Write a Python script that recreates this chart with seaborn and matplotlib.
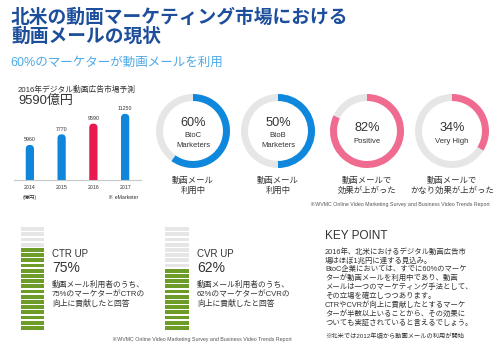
import matplotlib
matplotlib.use("Agg")
import matplotlib.pyplot as plt
import numpy as np
import seaborn as sns
from matplotlib.patches import FancyBboxPatch

sns.set_style("white")
plt.rcParams["font.family"] = ["Liberation Sans", "Noto Sans CJK JP", "DejaVu Sans"]

W, H = 500, 351

# data
years = ["2014", "2015", "2016", "2017"]
ad_market = [5960, 7770, 9590, 11250]
bar_colors = ["#0e86d9", "#0e86d9", "#e8194f", "#0e86d9"]

donut_pcts = [60, 50, 82, 34]
donut_inner = [["60%", "BtoC", "Marketers"], ["50%", "BtoB", "Marketers"],
               ["82%", "Positive"], ["34%", "Very High"]]
donut_labels = [["動画メール", "利用中"], ["動画メール", "利用中"],
                ["動画メールで", "効果が上がった"], ["動画メールで", "かなり効果が上がった"]]
donut_colors = ["#0e87dc", "#0e87dc", "#f06b90", "#f06b90"]

n_seg = 20
ctr_green = 16
cvr_green = 12

keypoint_lines = [
    "2016年、北米におけるデジタル動画広告市",
    "場はほぼ1兆円に達する見込み。",
    "BtoC企業においては、すでに60%のマーケ",
    "ターが動画メールを利用中であり、動画",
    "メールは一つのマーケティング手法として、",
    "その立場を確立しつつあります。",
    "CTRやCVRが向上に貢献したとするマーケ",
    "ターが半数以上いることから、その効果に",
    "ついても実証されていると言えるでしょう。",
]

TXT = "#333333"
GREY = "#e6e6e6"
GREEN = "#6e9c28"
SRC = "※WVMC Online Video Marketing Survey and Business Video Trends Report"

fig = plt.figure(figsize=(W / 100, H / 100), dpi=100)


def t(x, y, s, **kw):
    kw.setdefault("color", TXT)
    kw.setdefault("va", "center")
    fig.text(x / W, 1 - y / H, s, **kw)


def box(x0, y0, x1, y1):
    return [x0 / W, 1 - y1 / H, (x1 - x0) / W, (y1 - y0) / H]


# titles
t(11, 17.5, "北米の動画マーケティング市場における", fontsize=13.5, weight="bold", color="#1d4e9c")
t(11, 37, "動画メールの現状", fontsize=13.5, weight="bold", color="#1d4e9c")
t(10, 63, "60%のマーケターが動画メールを利用", fontsize=9, color="#4da9e6")

# bar chart
t(18, 90, "2016年デジタル動画広告市場予測", fontsize=5.6)
t(18, 101, "9590億円", fontsize=9.4)
ax = fig.add_axes(box(14, 100, 141, 180))
sns.barplot(x=years, y=ad_market, hue=years, palette=bar_colors, legend=False,
            width=0.26, saturation=1, ax=ax)
ax.set_ylim(0, 13600)
ax.set_xlim(-0.5, 3.5)
ma = (13600 / 80) * (127 / 4)
for p in list(ax.patches):
    x0, w, h, fc = p.get_x(), p.get_width(), p.get_height(), p.get_facecolor()
    p.remove()
    ax.add_patch(FancyBboxPatch((x0, -2000), w, h + 2000,
                                boxstyle=f"round,pad=0,rounding_size={w / 2}",
                                mutation_aspect=ma, fc=fc, ec="none"))
for i, v in enumerate(ad_market):
    ax.text(i, v + 450, str(v), ha="center", va="bottom", fontsize=3.8, color=TXT)
sns.despine(ax=ax, left=True)
ax.spines["bottom"].set_color("#c8c8c8")
ax.spines["bottom"].set_linewidth(0.8)
ax.set_yticks([])
ax.set_xticks(range(len(years)), years, fontsize=3.8, color=TXT)
ax.tick_params(axis="x", length=0, pad=3.5)
ax.set_xlabel("")
ax.set_facecolor("none")
t(30, 197, "(億円)", fontsize=3.8, ha="center")
t(108, 197, "※ eMarketer", fontsize=3.8)

# donuts
R = 37
cx = [193, 278, 367, 452]
cy = 131
inner_y = [[0.21, -0.13, -0.40], [0.21, -0.13, -0.40], [0.07, -0.29], [0.07, -0.29]]
for i, pct in enumerate(donut_pcts):
    s = R * 1.25
    dax = fig.add_axes(box(cx[i] - s, cy - s, cx[i] + s, cy + s))
    dax.pie([pct, 100 - pct], colors=[donut_colors[i], GREY], startangle=90,
            counterclock=False, wedgeprops=dict(width=0.19, edgecolor="none"))
    dax.set_xlim(-1.25, 1.25)
    dax.set_ylim(-1.25, 1.25)
    dax.set_aspect("equal")
    for j, line in enumerate(donut_inner[i]):
        fs = 9.2 if j == 0 else 5.5
        dax.text(0, inner_y[i][j], line, ha="center", va="center", fontsize=fs, color=TXT)
    t(cx[i], 180.5, donut_labels[i][0], fontsize=6, ha="center")
    t(cx[i], 191, donut_labels[i][1], fontsize=6, ha="center")
t(490, 204, SRC, fontsize=3.8, ha="right", color="#555555")

# segmented bars
seg_bars = [(21, 44, ctr_green, "CTR UP", "75%", "CTR"), (165, 189, cvr_green, "CVR UP", "62%", "CVR")]
for x0, x1, g, head, pct, key in seg_bars:
    sax = fig.add_axes(box(x0, 226.5, x1, 330.5))
    cols = [GREEN if k < g else GREY for k in range(n_seg)]
    sax.bar(np.zeros(n_seg), np.full(n_seg, 0.74), bottom=np.arange(n_seg) + 0.13,
            width=1, color=cols, edgecolor="none")
    sax.set_xlim(-0.5, 0.5)
    sax.set_ylim(0, n_seg)
    sax.axis("off")
    tx = x1 + 8
    t(tx, 254, head, fontsize=7)
    t(tx, 268.5, pct, fontsize=10)
    desc = ["動画メール利用者のうち、", f"{pct}のマーケターが{key}の", "向上に貢献したと回答"]
    for k, line in enumerate(desc):
        t(tx, 287 + k * 9.6, line, fontsize=5.6, va="baseline")
t(112, 339.5, SRC, fontsize=3.8, color="#555555")

# key point
t(325, 236, "KEY POINT", fontsize=8.5)
for k, line in enumerate(keypoint_lines):
    t(325, 253.5 + k * 8.9, line, fontsize=5.3, va="baseline")
t(325, 336, "※北米では2012年頃から動画メールの利用が開始", fontsize=4.5)

fig.savefig("out.png", dpi=100)
